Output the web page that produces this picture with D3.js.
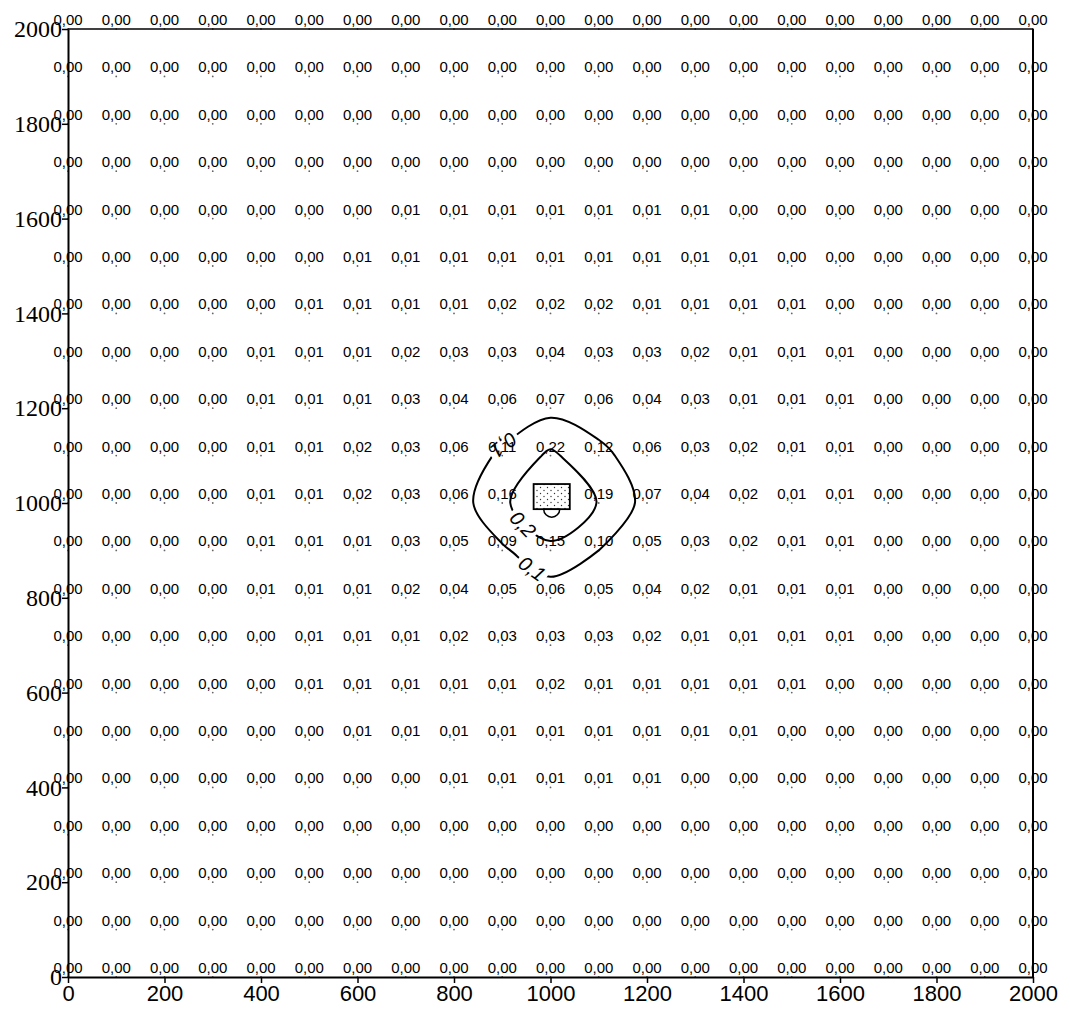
<!DOCTYPE html>
<html>
<head>
<meta charset="utf-8">
<script src="https://cdn.jsdelivr.net/npm/d3@7"></script>
<style>
  body { margin: 0; background: #fff; }
  svg { display: block; }
</style>
</head>
<body>
<div id="chart"></div>
<script>
// grid nodes (m)
const gridX = [0, 100, 200, 300, 400, 500, 600, 700, 800, 900, 1000,
  1100, 1200, 1300, 1400, 1500, 1600, 1700, 1800, 1900, 2000];
const gridY = [2000, 1900, 1800, 1700, 1600, 1500, 1400, 1300, 1200, 1100, 1000,
  900, 800, 700, 600, 500, 400, 300, 200, 100, 0];

// one row per gridY value, top to bottom; null = source cell (no label printed)
const concentration = [
  [0,0,0,0,0,0,0,0,0,0,0,0,0,0,0,0,0,0,0,0,0],
  [0,0,0,0,0,0,0,0,0,0,0,0,0,0,0,0,0,0,0,0,0],
  [0,0,0,0,0,0,0,0,0,0,0,0,0,0,0,0,0,0,0,0,0],
  [0,0,0,0,0,0,0,0,0,0,0,0,0,0,0,0,0,0,0,0,0],
  [0,0,0,0,0,0,0,0.01,0.01,0.01,0.01,0.01,0.01,0.01,0,0,0,0,0,0,0],
  [0,0,0,0,0,0,0.01,0.01,0.01,0.01,0.01,0.01,0.01,0.01,0.01,0,0,0,0,0,0],
  [0,0,0,0,0,0.01,0.01,0.01,0.01,0.02,0.02,0.02,0.01,0.01,0.01,0.01,0,0,0,0,0],
  [0,0,0,0,0.01,0.01,0.01,0.02,0.03,0.03,0.04,0.03,0.03,0.02,0.01,0.01,0.01,0,0,0,0],
  [0,0,0,0,0.01,0.01,0.01,0.03,0.04,0.06,0.07,0.06,0.04,0.03,0.01,0.01,0.01,0,0,0,0],
  [0,0,0,0,0.01,0.01,0.02,0.03,0.06,0.11,0.22,0.12,0.06,0.03,0.02,0.01,0.01,0,0,0,0],
  [0,0,0,0,0.01,0.01,0.02,0.03,0.06,0.16,null,0.19,0.07,0.04,0.02,0.01,0.01,0,0,0,0],
  [0,0,0,0,0.01,0.01,0.01,0.03,0.05,0.09,0.15,0.10,0.05,0.03,0.02,0.01,0.01,0,0,0,0],
  [0,0,0,0,0.01,0.01,0.01,0.02,0.04,0.05,0.06,0.05,0.04,0.02,0.01,0.01,0.01,0,0,0,0],
  [0,0,0,0,0,0.01,0.01,0.01,0.02,0.03,0.03,0.03,0.02,0.01,0.01,0.01,0.01,0,0,0,0],
  [0,0,0,0,0,0.01,0.01,0.01,0.01,0.01,0.02,0.01,0.01,0.01,0.01,0.01,0,0,0,0,0],
  [0,0,0,0,0,0,0.01,0.01,0.01,0.01,0.01,0.01,0.01,0.01,0.01,0,0,0,0,0,0],
  [0,0,0,0,0,0,0,0,0.01,0.01,0.01,0.01,0.01,0,0,0,0,0,0,0,0],
  [0,0,0,0,0,0,0,0,0,0,0,0,0,0,0,0,0,0,0,0,0],
  [0,0,0,0,0,0,0,0,0,0,0,0,0,0,0,0,0,0,0,0,0],
  [0,0,0,0,0,0,0,0,0,0,0,0,0,0,0,0,0,0,0,0,0],
  [0,0,0,0,0,0,0,0,0,0,0,0,0,0,0,0,0,0,0,0,0]
];

const sourceValue = 0.40; // not printed, estimated from where the 0,2 line sits
const contourLevels = [0.1, 0.2];
const sourceBox = [965, 987, 1040, 1040]; // x0, y0, x1, y1

// where each isoline is labelled (snapped onto the line)
const contourLabels = [
  { level: 0.1, x: 966, y: 867, flip: false },
  { level: 0.2, x: 947, y: 960, flip: false },
  { level: 0.1, x: 893, y: 1135, flip: true }
];

const xTicks = [0, 200, 400, 600, 800, 1000, 1200, 1400, 1600, 1800, 2000];
const yTicks = [0, 200, 400, 600, 800, 1000, 1200, 1400, 1600, 1800, 2000];

const width = 1070;
const height = 1010;
const margin = { top: 29, right: 37, bottom: 33, left: 68 };

const locale = d3.formatLocale({ decimal: ',', thousands: ' ', grouping: [3], currency: ['', ''] });
const fmt2 = locale.format('.2f');
const fmt1 = locale.format('.1f');

const x = d3.scaleLinear().domain([0, 2000]).range([margin.left, width - margin.right]);
const y = d3.scaleLinear().domain([0, 2000]).range([height - margin.bottom, margin.top]);

const svg = d3.select('#chart').append('svg')
  .attr('width', width)
  .attr('height', height);

svg.append('rect').attr('width', width).attr('height', height).attr('fill', '#fff');

const defs = svg.append('defs');
const pattern = defs.append('pattern')
  .attr('id', 'stipple')
  .attr('patternUnits', 'userSpaceOnUse')
  .attr('width', 7)
  .attr('height', 6);
pattern.append('circle').attr('cx', 1.5).attr('cy', 1.5).attr('r', 0.7).attr('fill', '#333');
pattern.append('circle').attr('cx', 5).attr('cy', 4.5).attr('r', 0.7).attr('fill', '#333');

const mask = defs.append('mask')
  .attr('id', 'labelGaps')
  .attr('maskUnits', 'userSpaceOnUse')
  .attr('x', 0).attr('y', 0).attr('width', width).attr('height', height);
mask.append('rect').attr('width', width).attr('height', height).attr('fill', '#fff');

// value labels with their node dot
const cells = [];
concentration.forEach((row, r) => {
  row.forEach((v, c) => {
    if (v !== null) cells.push({ gx: gridX[c], gy: gridY[r], v });
  });
});

const labels = svg.append('g')
  .attr('font-family', '"Liberation Sans", Arial, sans-serif')
  .attr('font-size', 15)
  .attr('fill', '#000');

labels.selectAll('circle')
  .data(cells)
  .join('circle')
  .attr('cx', d => x(d.gx))
  .attr('cy', d => y(d.gy))
  .attr('r', 0.9)
  .attr('fill', '#666');

labels.selectAll('text')
  .data(cells)
  .join('text')
  .attr('x', d => x(d.gx))
  .attr('y', d => y(d.gy) - 4)
  .attr('text-anchor', 'middle')
  .text(d => fmt2(d.v));

// axes
const xAxis = svg.append('g')
  .attr('transform', `translate(0,${y(0)})`)
  .call(d3.axisBottom(x).tickValues(xTicks).tickFormat(d3.format('d')).tickSize(6).tickSizeOuter(0).tickPadding(2));
xAxis.selectAll('text')
  .attr('font-family', '"Liberation Sans", Arial, sans-serif')
  .attr('font-size', 22)
  .attr('fill', '#000');

const yAxis = svg.append('g')
  .attr('transform', `translate(${x(0)},0)`)
  .call(d3.axisLeft(y).tickValues(yTicks).tickFormat(d3.format('d')).tickSize(6).tickSizeOuter(0).tickPadding(0));
yAxis.selectAll('text')
  .attr('font-family', '"Liberation Serif", "Times New Roman", serif')
  .attr('font-size', 24)
  .attr('fill', '#000');

svg.selectAll('.domain').attr('stroke', '#000').attr('stroke-width', 2);
svg.selectAll('.tick line').attr('stroke', '#000').attr('stroke-width', 1.5);

svg.append('line')
  .attr('x1', x(0)).attr('x2', x(2000))
  .attr('y1', y(2000)).attr('y2', y(2000))
  .attr('stroke', '#000').attr('stroke-width', 1.5);
svg.append('line')
  .attr('x1', x(2000)).attr('x2', x(2000))
  .attr('y1', y(2000)).attr('y2', y(0))
  .attr('stroke', '#000').attr('stroke-width', 2);

// isolines
const nx = gridX.length;
const ny = gridY.length;
const flat = [];
concentration.forEach(row => row.forEach(v => flat.push(v === null ? sourceValue : v)));

const contours = d3.contours().size([nx, ny]).thresholds(contourLevels)(flat);

const stepX = gridX[1] - gridX[0];
const stepY = gridY[1] - gridY[0];
const toData = ([cx, cy]) => [gridX[0] + (cx - 0.5) * stepX, gridY[0] + (cy - 0.5) * stepY];

const line = d3.line()
  .x(d => x(d[0]))
  .y(d => y(d[1]))
  .curve(d3.curveCatmullRomClosed.alpha(0.5));

const isoGroup = svg.append('g')
  .attr('mask', 'url(#labelGaps)')
  .attr('fill', 'none')
  .attr('stroke', '#000')
  .attr('stroke-width', 2)
  .attr('stroke-linejoin', 'round');

const pathsByLevel = new Map();
contours.forEach(c => {
  pathsByLevel.set(c.value, []);
  c.coordinates.forEach(poly => {
    const ring = [];
    poly[0].slice(0, -1).map(toData).forEach(p => {
      const last = ring[ring.length - 1];
      if (!last || Math.hypot(p[0] - last[0], p[1] - last[1]) > 2) ring.push(p);
    });
    const node = isoGroup.append('path').attr('d', line(ring)).node();
    pathsByLevel.get(c.value).push(node);
  });
});

// source building
const [bx0, by0, bx1, by1] = sourceBox;
const src = svg.append('g');
src.append('path')
  .attr('transform', `translate(${x((bx0 + bx1) / 2)},${y(by0)})`)
  .attr('d', d3.arc()({ innerRadius: 0, outerRadius: 8, startAngle: Math.PI / 2, endAngle: Math.PI * 1.5 }))
  .attr('fill', '#fff')
  .attr('stroke', '#000')
  .attr('stroke-width', 1.5);
src.append('rect')
  .attr('x', x(bx0))
  .attr('y', y(by1))
  .attr('width', x(bx1) - x(bx0))
  .attr('height', y(by0) - y(by1))
  .attr('fill', 'url(#stipple)')
  .attr('stroke', '#000')
  .attr('stroke-width', 1.8);

// isoline labels
const isoLabels = svg.append('g')
  .attr('font-family', '"Liberation Sans", Arial, sans-serif')
  .attr('font-size', 20)
  .attr('font-style', 'italic')
  .attr('fill', '#000');

contourLabels.forEach(lab => {
  const tx = x(lab.x);
  const ty = y(lab.y);
  let best = null;
  (pathsByLevel.get(lab.level) || []).forEach(node => {
    const L = node.getTotalLength();
    for (let s = 0; s <= L; s += 1) {
      const p = node.getPointAtLength(s);
      const d = (p.x - tx) ** 2 + (p.y - ty) ** 2;
      if (!best || d < best.d) best = { d, s, node, L, p };
    }
  });
  if (!best) return;
  const a = best.node.getPointAtLength(Math.max(0, best.s - 5));
  const b = best.node.getPointAtLength(Math.min(best.L, best.s + 5));
  let ang = Math.atan2(b.y - a.y, b.x - a.x) * 180 / Math.PI;
  if (ang > 90) ang -= 180;
  if (ang <= -90) ang += 180;
  if (lab.flip) ang += 180;

  const t = isoLabels.append('text')
    .attr('transform', `translate(${best.p.x},${best.p.y}) rotate(${ang})`)
    .attr('text-anchor', 'middle')
    .attr('dy', '0.35em')
    .text(fmt1(lab.level));
  const w = t.node().getComputedTextLength() + 6;

  mask.append('rect')
    .attr('transform', `translate(${best.p.x},${best.p.y}) rotate(${ang})`)
    .attr('x', -w / 2)
    .attr('y', -9)
    .attr('width', w)
    .attr('height', 18)
    .attr('fill', '#000');
});
</script>
</body>
</html>
